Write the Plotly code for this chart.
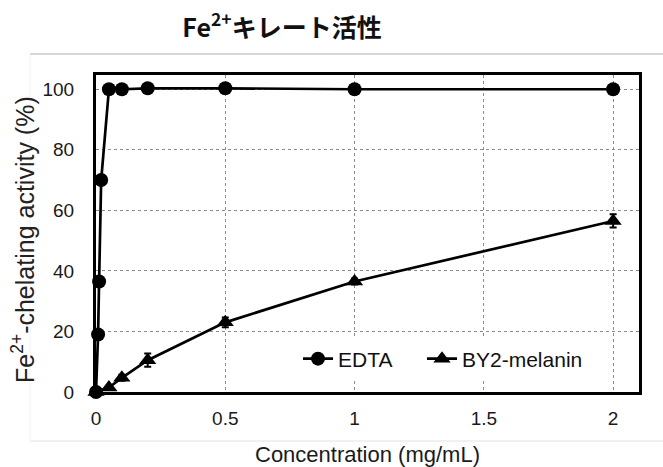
import plotly.graph_objects as go

# Data
edta_x = [0, 0.008, 0.012, 0.02, 0.05, 0.1, 0.2, 0.5, 1, 2]
edta_y = [0, 19, 36.5, 70, 100, 100, 100.3, 100.3, 100, 100]

by2_x = [0, 0.05, 0.1, 0.2, 0.5, 1, 2]
by2_y = [0, 1.5, 4.7, 10.5, 23, 36.5, 56.5]
by2_err = [0, 0.5, 1.0, 2.2, 1.6, 1.0, 2.2]

x_ticks = [0, 0.5, 1, 1.5, 2]
x_tick_labels = ["0", "0.5", "1", "1.5", "2"]
y_ticks = [0, 20, 40, 60, 80, 100]

W, H = 663, 467
L, R, T, B = 96, 24, 75, 75
pw, ph = W - L - R, H - T - B

def px(xp):
    return (xp - L) / pw

def py(yp):
    return (H - B - yp) / ph

FONT = "Liberation Sans, Arial, sans-serif"

fig = go.Figure()
fig.add_trace(go.Scatter(
    x=edta_x, y=edta_y, name="EDTA", mode="lines+markers",
    line=dict(color="black", width=2.7),
    marker=dict(symbol="circle", size=14, color="black"),
    cliponaxis=False, legend="legend",
))
fig.add_trace(go.Scatter(
    x=by2_x, y=by2_y, name="BY2-melanin", mode="lines+markers",
    line=dict(color="black", width=2.7),
    marker=dict(symbol="triangle-up", size=15, color="black"),
    error_y=dict(type="data", array=by2_err, color="black", thickness=2, width=3.5),
    cliponaxis=False, legend="legend2",
))

leg_common = dict(orientation="h", xanchor="left", y=py(359), yanchor="middle",
                  bgcolor="white", font=dict(family=FONT, size=21, color="#111"),
                  itemwidth=30)

fig.update_layout(
    width=W, height=H,
    margin=dict(l=L, r=R, t=T, b=B),
    paper_bgcolor="white", plot_bgcolor="white",
    font=dict(family=FONT, size=19, color="#1a1a1a"),
    showlegend=True,
    legend=dict(x=px(298), **leg_common),
    legend2=dict(x=px(422), **leg_common),
    title=dict(
        text="Fe<sup>2+</sup>キレート活性",
        x=282 / W, xref="container", xanchor="center",
        y=1 - 28 / H, yref="container", yanchor="middle",
        font=dict(family="Noto Sans CJK JP", size=25, color="#111", weight="bold"),
    ),
    xaxis=dict(
        range=[0, 2.1], tickvals=x_ticks, ticktext=x_tick_labels,
        showgrid=True, gridcolor="#8c8c8c", gridwidth=1, griddash="dot",
        showline=True, linecolor="black", linewidth=3, mirror=True,
        zeroline=False, ticks="", ticklabelstandoff=7,
        tickfont=dict(family=FONT, size=19, color="#1a1a1a"),
    ),
    yaxis=dict(
        range=[0, 104.7], tickvals=y_ticks,
        showgrid=True, gridcolor="#8c8c8c", gridwidth=1, griddash="dot",
        showline=True, linecolor="black", linewidth=3, mirror=True,
        zeroline=False, ticks="", ticklabelstandoff=15,
        tickfont=dict(family=FONT, size=19, color="#1a1a1a"),
    ),
    annotations=[
        dict(text="Concentration (mg/mL)", xref="paper", yref="paper",
             x=0.5, y=py(454), xanchor="center", yanchor="middle",
             showarrow=False, font=dict(family=FONT, size=22, color="#1a1a1a")),
        dict(text="Fe<sup>2+</sup>-chelating activity (%)", xref="paper", yref="paper",
             x=px(23), y=py(240), xanchor="center", yanchor="middle", textangle=-90,
             showarrow=False, font=dict(family=FONT, size=25, color="#222")),
    ],
    shapes=[
        dict(type="line", xref="paper", yref="paper", x0=px(30), x1=px(663), y0=py(54), y1=py(54),
             line=dict(color="#c8c8c8", width=1.5), layer="below"),
        dict(type="line", xref="paper", yref="paper", x0=px(30), x1=px(663), y0=py(441), y1=py(441),
             line=dict(color="#e2e2e2", width=1), layer="below"),
        dict(type="line", xref="paper", yref="paper", x0=px(30), x1=px(30), y0=py(54), y1=py(441),
             line=dict(color="#f2f2f2", width=1), layer="below"),
    ],
)

fig.write_html("out.html", config={"displayModeBar": False},
               post_script="document.body.style.margin='0';document.body.style.padding='0';")
